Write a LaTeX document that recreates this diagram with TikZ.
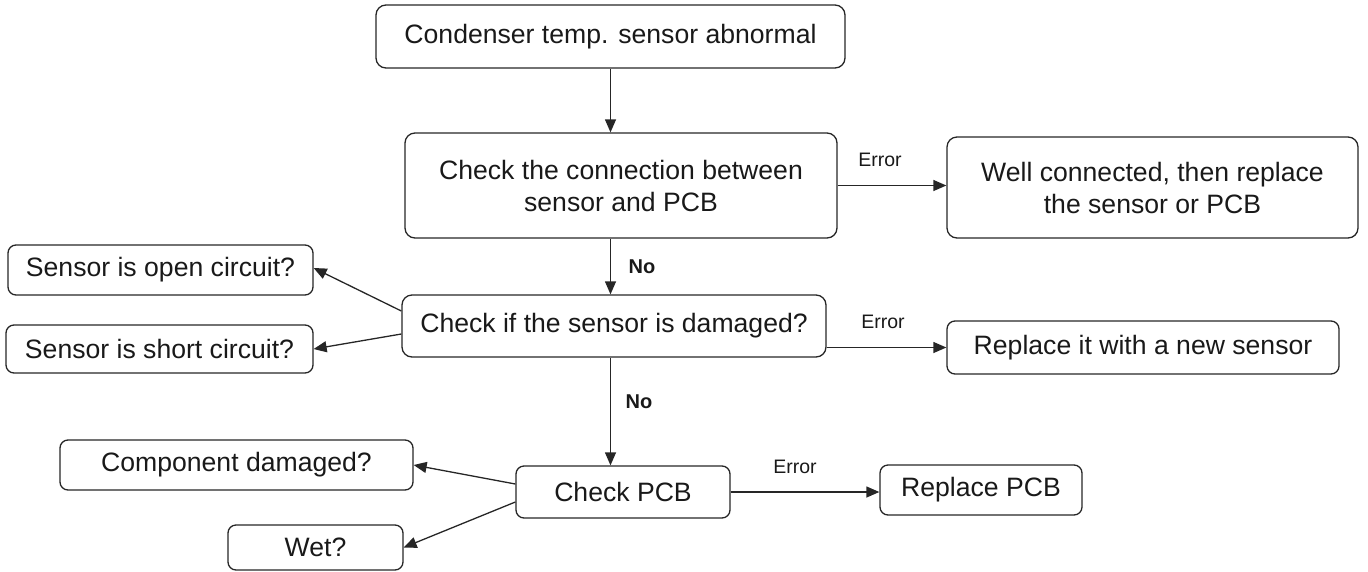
\documentclass[tikz,border=0pt]{standalone}
\usepackage{fontspec}
\setmainfont{Liberation Sans}
\usetikzlibrary{arrows.meta,calc}
\begin{document}
\begin{tikzpicture}[x=1pt,y=-1pt,
  box/.style={draw=black!85, line width=1.3pt, rounded corners=10pt, align=center,
    font=\fontsize{26.6}{32}\selectfont, text=black!90, inner sep=0pt},
  sbox/.style={box, rounded corners=8pt},
  arr/.style={draw=black!85, line width=1.3pt, -{Triangle[length=13pt,width=11pt]}},
  lbl/.style={font=\fontsize{19.5}{23}\selectfont, text=black!90, inner sep=0pt},
  nolbl/.style={font=\fontsize{20}{24}\selectfont\bfseries, text=black!90, inner sep=0pt}]
\useasboundingbox (0,0) rectangle (1368,571);
\node[box, minimum width=469pt, minimum height=63pt] (top) at (610.5,36.5) {Condenser temp. sensor abnormal};
\node[box, minimum width=432pt, minimum height=105pt] (conn) at (621,185.5) {Check the connection between\\sensor and PCB};
\node[box, minimum width=411pt, minimum height=101pt] (well) at (1152.5,187.5) {Well connected, then replace\\the sensor or PCB};
\node[sbox, minimum width=305pt, minimum height=50pt] (open) at (160.5,270) {Sensor is open circuit?};
\node[sbox, minimum width=307pt, minimum height=48pt] (short) at (159.5,349) {Sensor is short circuit?};
\node[box, minimum width=424pt, minimum height=62pt] (chk) at (614,326) {Check if the sensor is damaged?};
\node[sbox, minimum width=392pt, minimum height=53pt] (repl) at (1143,347.5) {Replace it with a new sensor};
\node[sbox, minimum width=353pt, minimum height=50pt] (comp) at (236.5,465) {Component damaged?};
\node[sbox, minimum width=214pt, minimum height=52pt] (pcb) at (623,492) {Check PCB};
\node[sbox, minimum width=202pt, minimum height=50pt] (rpcb) at (981,490) {Replace PCB};
\node[sbox, minimum width=175pt, minimum height=45pt] (wet) at (315.5,547.5) {Wet?};

\draw[arr] (top.south) -- (top.south |- conn.north);
\draw[arr] (top.south |- conn.south) -- (top.south |- chk.north);
\draw[arr] (top.south |- chk.south) -- (top.south |- pcb.north);
\draw[arr] (conn.east) -- (conn.east -| well.west);
\draw[arr] (repl.west -| chk.east) -- (repl.west);
\draw[arr] (pcb.east) -- (pcb.east -| rpcb.west);
\draw[arr] ([yshift=15pt]chk.west) -- ([yshift=2pt]open.east);
\draw[arr] ([yshift=-8pt]chk.west) -- (short.east);
\draw[arr] ([yshift=8pt]pcb.west) -- (comp.east);
\draw[arr] ([yshift=-10pt]pcb.west) -- (wet.east);

\node[lbl] (e1) at (880,160) {Error};
\node[lbl] (e2) at (883,322) {Error};
\node[lbl] (e3) at (795,467) {Error};
\node[nolbl] (n1) at (642,267) {No};
\node[nolbl] (n2) at (639,402) {No};
\end{tikzpicture}
\end{document}
